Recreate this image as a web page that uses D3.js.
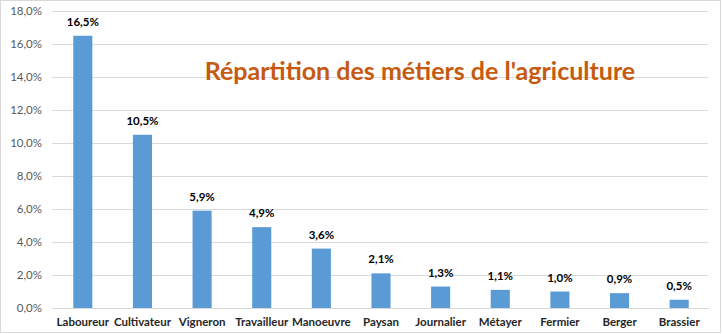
<!DOCTYPE html>
<html>
<head>
<meta charset="utf-8">
<script src="https://cdn.jsdelivr.net/npm/d3@7/dist/d3.min.js"></script>
<style>
  html, body { margin: 0; padding: 0; background: #fff; }
  svg { display: block; }
</style>
</head>
<body>
<svg id="chart" width="722" height="334"></svg>
<script>
// Répartition des métiers de l'agriculture (part en %)
const categories = ["Laboureur", "Cultivateur", "Vigneron", "Travailleur", "Manoeuvre", "Paysan", "Journalier", "Métayer", "Fermier", "Berger", "Brassier"];
const values = [16.5, 10.5, 5.9, 4.9, 3.6, 2.1, 1.3, 1.1, 1.0, 0.9, 0.5];
const yTicks = [0, 2, 4, 6, 8, 10, 12, 14, 16, 18];
const title = "Répartition des métiers de l'agriculture";

const fmt = v => v.toFixed(1).replace(".", ",") + "%";
const font = "Lato, 'Open Sans', sans-serif";

const svg = d3.select("#chart");
const W = 722, H = 334;
const m = { left: 52, right: 14, top: 11, bottom: 26 };

// chart frame
svg.append("rect")
  .attr("x", 0.5).attr("y", 0.5)
  .attr("width", W - 2).attr("height", H - 2)
  .attr("fill", "#fff").attr("stroke", "#d9d9d9");

const x = d3.scaleBand().domain(categories).range([m.left, W - m.right]).paddingInner(0.68).paddingOuter(0.34);
const y = d3.scaleLinear().domain([0, 18]).range([H - m.bottom, m.top]);

// horizontal gridlines + y labels
const yAxis = d3.axisLeft(y).tickValues(yTicks).tickFormat(fmt).tickSize(-(W - m.right - m.left)).tickPadding(10);
const gy = svg.append("g").attr("transform", `translate(${m.left},0)`).call(yAxis);
gy.select(".domain").remove();
gy.selectAll(".tick line").attr("stroke", "#d9d9d9").attr("shape-rendering", "crispEdges");
gy.selectAll(".tick text").attr("fill", "#595959").attr("font-size", 11.5).attr("font-family", font);

// bars
svg.append("g").selectAll("rect").data(values).join("rect")
  .attr("x", (d, i) => x(categories[i]) + 1)
  .attr("y", d => y(d))
  .attr("width", x.bandwidth())
  .attr("height", d => y(0) - y(d))
  .attr("fill", "#5b9bd5");

// value labels
svg.append("g").selectAll("text").data(values).join("text")
  .attr("x", (d, i) => x(categories[i]) + 1 + x.bandwidth() / 2)
  .attr("y", d => y(d) - 10)
  .attr("text-anchor", "middle")
  .attr("font-size", 11.5).attr("font-weight", "bold")
  .attr("font-family", font).attr("fill", "#000")
  .text(fmt);

// category labels
const xAxis = d3.axisBottom(x).tickSize(0).tickPadding(10);
const gx = svg.append("g").attr("transform", `translate(1,${y(0)})`).call(xAxis);
gx.select(".domain").attr("stroke", "#d9d9d9");
gx.selectAll(".tick text").attr("fill", "#262626").attr("font-size", 11.5).attr("font-weight", "bold").attr("font-family", font);

// title
svg.append("text")
  .attr("x", 420).attr("y", 80)
  .attr("text-anchor", "middle")
  .attr("font-size", 25).attr("font-weight", "bold")
  .attr("font-family", font).attr("fill", "#c55a11")
  .text(title);
</script>
</body>
</html>
